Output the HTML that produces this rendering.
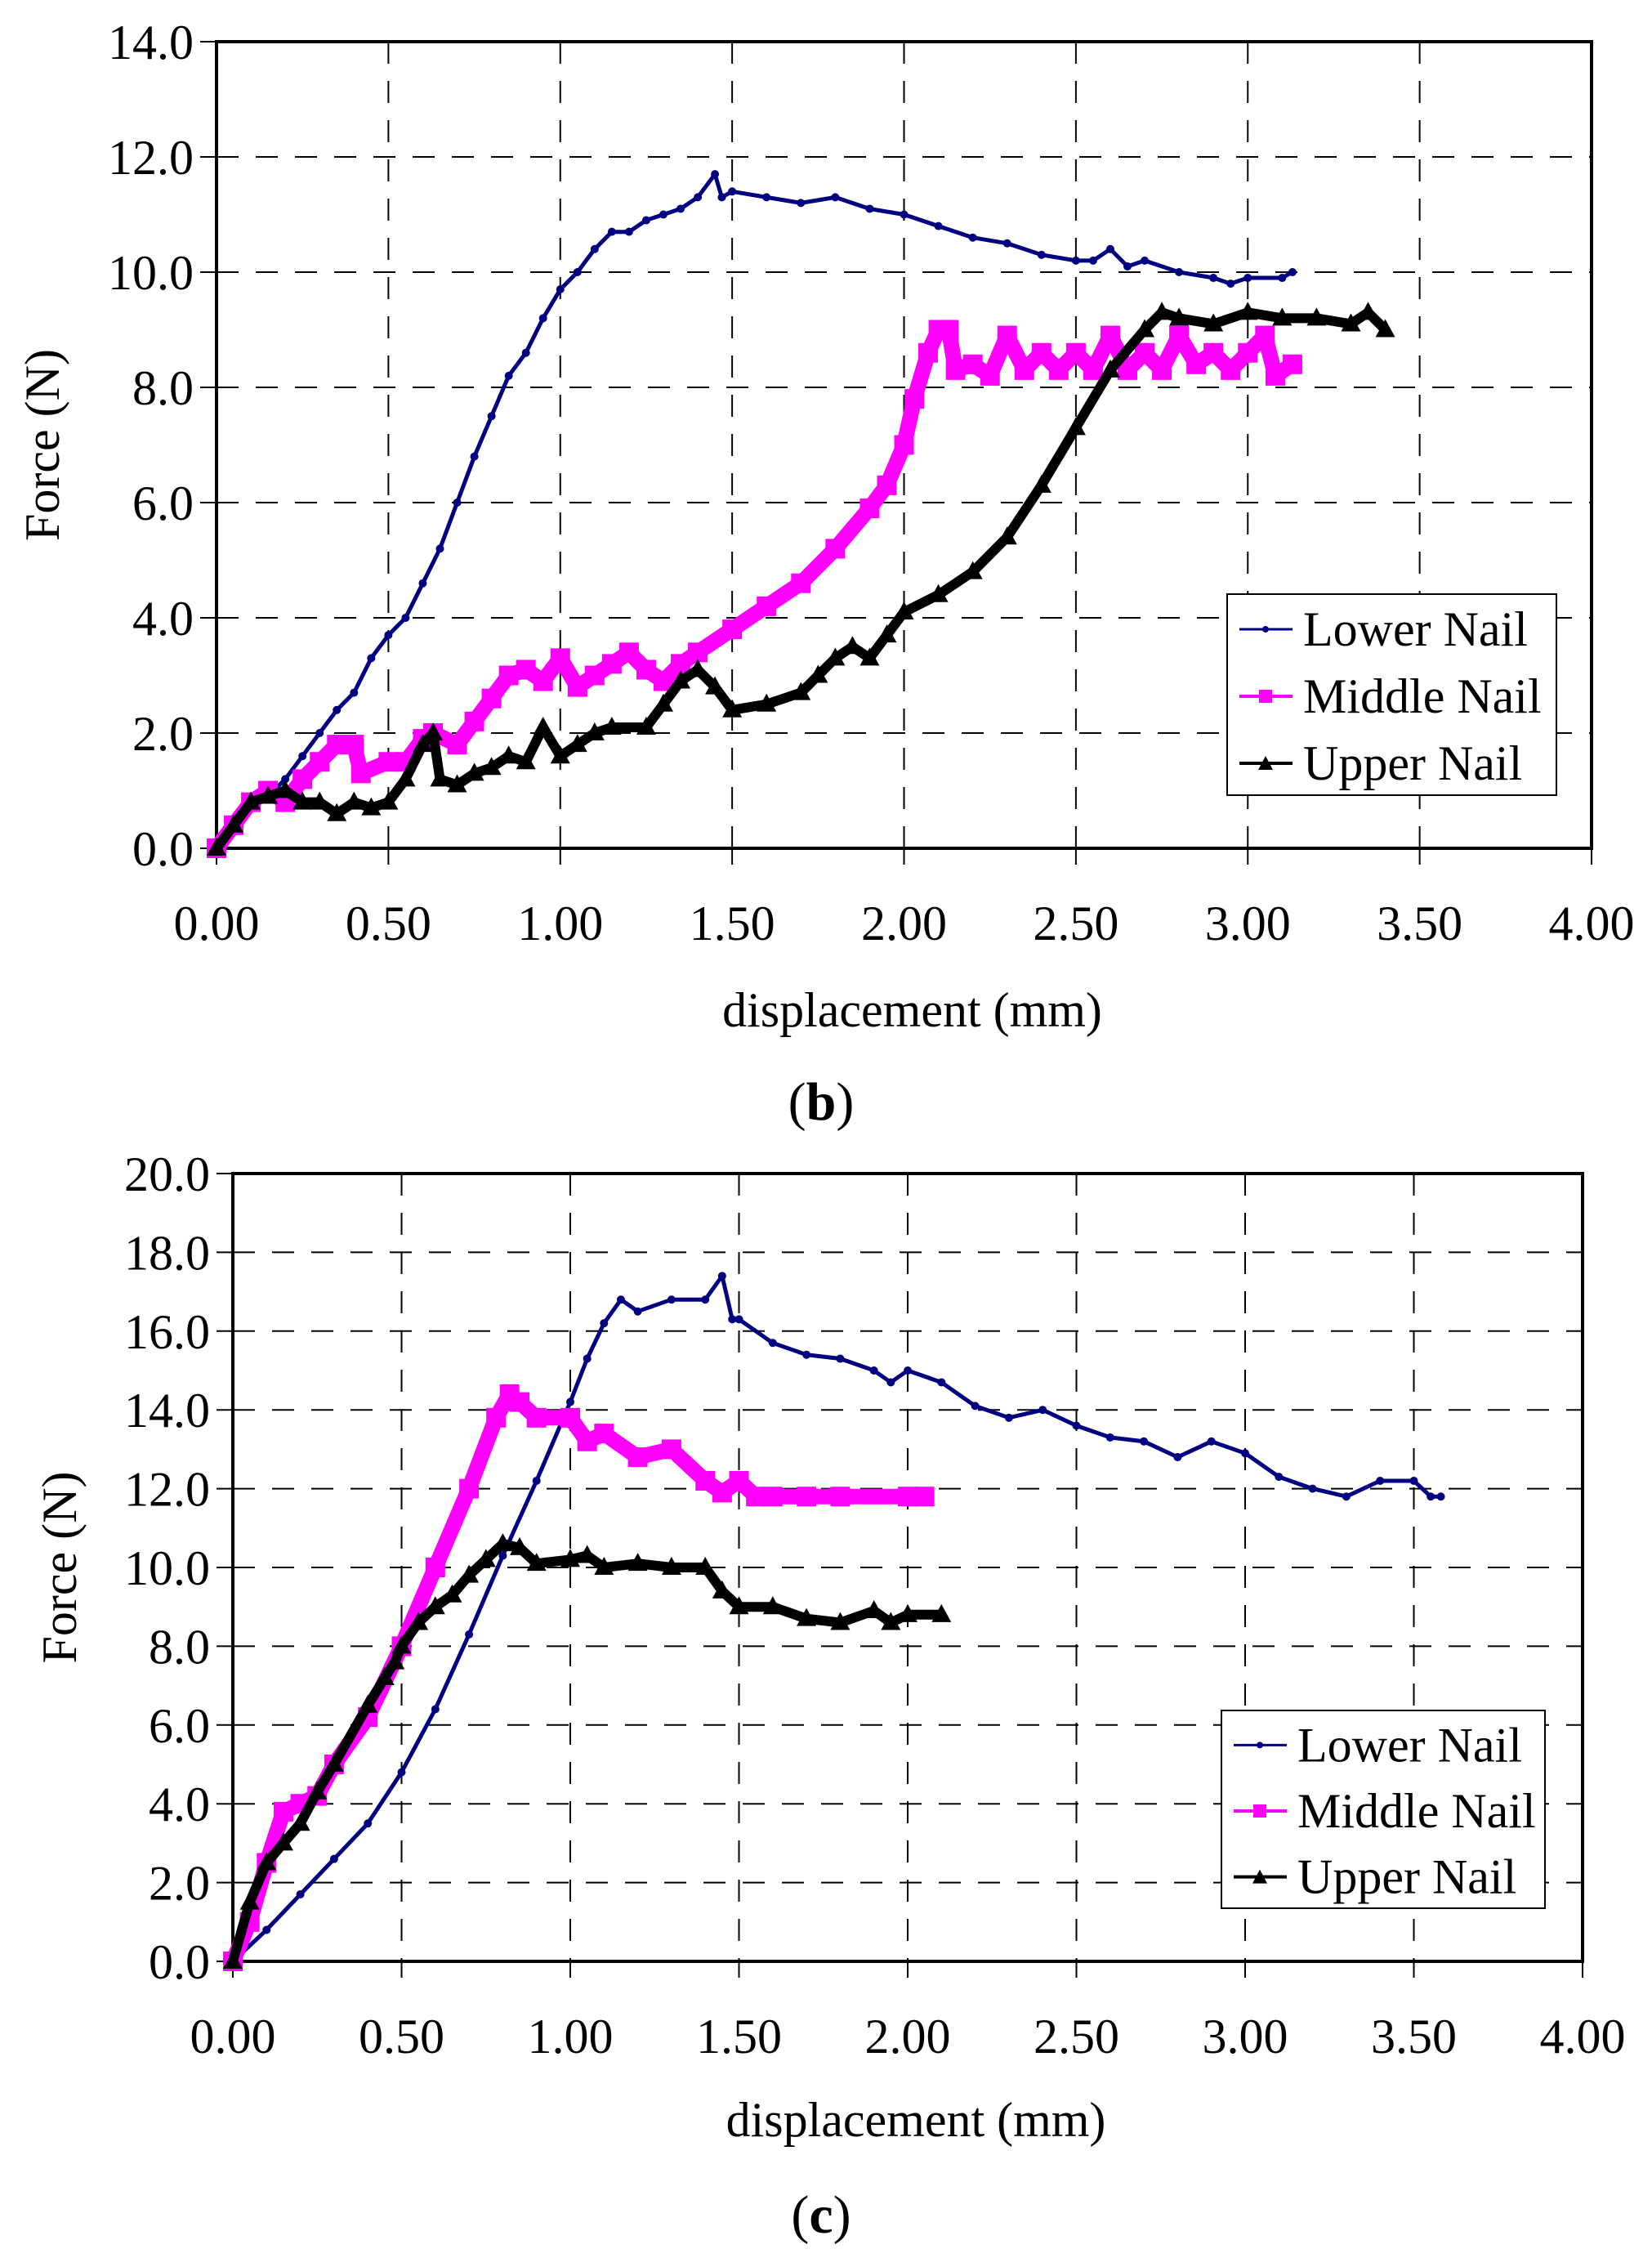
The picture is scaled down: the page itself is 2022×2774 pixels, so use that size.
<!DOCTYPE html>
<html><head><meta charset="utf-8"><style>
html,body{margin:0;padding:0;background:#fff}
svg{display:block}
text{font-family:"Liberation Serif",serif;fill:#000}
</style></head><body>
<svg id="fig" width="2022" height="2774" viewBox="0 0 2022 2774" xmlns="http://www.w3.org/2000/svg"></svg>
<script>
const xTicks=[0,0.5,1,1.5,2,2.5,3,3.5,4];
const xTickLabels=["0.00","0.50","1.00","1.50","2.00","2.50","3.00","3.50","4.00"];
const bYTicks=[0,2,4,6,8,10,12,14];
const cYTicks=[0,2,4,6,8,10,12,14,16,18,20];
const seriesNames=["Lower Nail","Middle Nail","Upper Nail"];
const bLowerX=[0,0.05,0.1,0.15,0.2,0.25,0.3,0.35,0.4,0.45,0.5,0.55,0.6,0.65,0.7,0.75,0.8,0.85,0.9,0.95,1.0,1.05,1.1,1.15,1.2,1.25,1.3,1.35,1.4,1.45,1.47,1.5,1.6,1.7,1.8,1.9,2.0,2.1,2.2,2.3,2.4,2.5,2.55,2.6,2.65,2.7,2.8,2.9,2.95,3.0,3.1,3.13];
const bLowerY=[0,0.4,0.7,0.9,1.2,1.6,2.0,2.4,2.7,3.3,3.7,4.0,4.6,5.2,6.0,6.8,7.5,8.2,8.6,9.2,9.7,10.0,10.4,10.7,10.7,10.9,11.0,11.1,11.3,11.7,11.3,11.4,11.3,11.2,11.3,11.1,11.0,10.8,10.6,10.5,10.3,10.2,10.2,10.4,10.1,10.2,10.0,9.9,9.8,9.9,9.9,10.0];
const bMiddleX=[0,0.05,0.1,0.15,0.2,0.25,0.3,0.35,0.4,0.42,0.5,0.55,0.6,0.63,0.7,0.75,0.8,0.85,0.9,0.95,1.0,1.05,1.1,1.15,1.2,1.25,1.3,1.35,1.4,1.5,1.6,1.7,1.8,1.9,1.95,2.0,2.03,2.07,2.1,2.13,2.15,2.2,2.25,2.3,2.35,2.4,2.45,2.5,2.55,2.6,2.65,2.7,2.75,2.8,2.85,2.9,2.95,3.0,3.05,3.08,3.13];
const bMiddleY=[0,0.4,0.8,1.0,0.8,1.2,1.5,1.8,1.8,1.3,1.5,1.5,1.9,2.0,1.8,2.2,2.6,3.0,3.1,2.9,3.3,2.8,3.0,3.2,3.4,3.1,2.9,3.2,3.4,3.8,4.2,4.6,5.2,5.9,6.3,7.0,7.8,8.6,9.0,9.0,8.3,8.4,8.2,8.9,8.3,8.6,8.3,8.6,8.3,8.9,8.3,8.6,8.3,8.9,8.4,8.6,8.3,8.6,8.9,8.2,8.4];
const bUpperX=[0,0.05,0.1,0.15,0.2,0.25,0.3,0.35,0.4,0.45,0.5,0.55,0.6,0.63,0.65,0.7,0.75,0.8,0.85,0.9,0.95,1.0,1.05,1.1,1.15,1.25,1.3,1.35,1.4,1.45,1.5,1.6,1.7,1.75,1.8,1.85,1.9,1.95,2.0,2.1,2.2,2.3,2.4,2.5,2.6,2.7,2.75,2.8,2.9,3.0,3.1,3.2,3.3,3.35,3.4];
const bUpperY=[0,0.4,0.8,0.9,1.0,0.8,0.8,0.6,0.8,0.7,0.8,1.2,1.8,2.0,1.2,1.1,1.3,1.4,1.6,1.5,2.1,1.6,1.8,2.0,2.1,2.1,2.5,2.9,3.1,2.8,2.4,2.5,2.7,3.0,3.3,3.5,3.3,3.7,4.1,4.4,4.8,5.4,6.3,7.3,8.3,9.0,9.3,9.2,9.1,9.3,9.2,9.2,9.1,9.3,9.0];
const cLowerX=[0,0.1,0.2,0.3,0.4,0.5,0.6,0.7,0.8,0.9,1.0,1.05,1.1,1.15,1.2,1.3,1.4,1.45,1.48,1.5,1.6,1.7,1.8,1.9,1.95,2.0,2.1,2.2,2.3,2.4,2.5,2.6,2.7,2.8,2.9,3.0,3.1,3.2,3.3,3.4,3.5,3.55,3.58];
const cLowerY=[0,0.8,1.7,2.6,3.5,4.8,6.4,8.3,10.3,12.2,14.2,15.3,16.2,16.8,16.5,16.8,16.8,17.4,16.3,16.3,15.7,15.4,15.3,15.0,14.7,15.0,14.7,14.1,13.8,14.0,13.6,13.3,13.2,12.8,13.2,12.9,12.3,12.0,11.8,12.2,12.2,11.8,11.8];
const cMiddleX=[0,0.05,0.1,0.15,0.2,0.25,0.3,0.4,0.5,0.6,0.7,0.78,0.82,0.85,0.9,1.0,1.05,1.1,1.2,1.3,1.4,1.45,1.5,1.55,1.6,1.7,1.8,2.0,2.05];
const cMiddleY=[0,1.0,2.5,3.8,4.0,4.2,5.0,6.2,8.0,10.0,12.0,13.8,14.4,14.2,13.8,13.8,13.2,13.4,12.8,13.0,12.2,11.9,12.2,11.8,11.8,11.8,11.8,11.8,11.8];
const cUpperX=[0,0.05,0.1,0.15,0.2,0.25,0.3,0.4,0.45,0.48,0.5,0.55,0.6,0.65,0.7,0.75,0.8,0.85,0.9,1.0,1.05,1.1,1.2,1.3,1.4,1.45,1.5,1.6,1.7,1.8,1.9,1.95,2.0,2.1];
const cUpperY=[0,1.5,2.5,3.0,3.5,4.3,5.0,6.5,7.2,7.6,8.0,8.6,9.0,9.3,9.8,10.2,10.6,10.5,10.1,10.2,10.3,10.0,10.1,10.0,10.0,9.4,9.0,9.0,8.7,8.6,8.9,8.6,8.8,8.8];

const NS="http://www.w3.org/2000/svg";
const svg=document.getElementById('fig');
function mk(tag,attrs,parent){const e=document.createElementNS(NS,tag);for(const k in attrs)e.setAttribute(k,attrs[k]);(parent||svg).appendChild(e);return e;}

function chart(cfg){
  const g=mk('g',{});
  
  
  const L=cfg.L,R=cfg.R,T=cfg.T,B=cfg.B,ymax=cfg.ymax;
  const sx=v=>L+(v/4)*(R-L);
  const sy=v=>B-(v/ymax)*(B-T);
  cfg.yTicks.forEach(v=>{
    if(v>0&&v<ymax){const l=mk('line',{x1:L,x2:R,y1:sy(v),y2:sy(v),stroke:'#000','stroke-width':2,'stroke-dasharray':'27 21'},g);
    
    }
    const t=mk('line',{x1:L-20,x2:L,y1:sy(v),y2:sy(v),stroke:'#000','stroke-width':2},g);
    
    
    const tx=mk('text',{x:L-28,y:sy(v)+21,'text-anchor':'end','font-size':60},g);
    tx.textContent=v.toFixed(1);
    
    
  });
  xTicks.forEach((v,i)=>{
    if(v>0&&v<4){const l=mk('line',{x1:sx(v),x2:sx(v),y1:T,y2:B,stroke:'#000','stroke-width':2,'stroke-dasharray':'27 21'},g);
    
    }
    const t=mk('line',{x1:sx(v),x2:sx(v),y1:B,y2:B+20,stroke:'#000','stroke-width':2},g);
    
    
    const tx=mk('text',{x:sx(v),y:cfg.xLabY,'text-anchor':'middle','font-size':60},g);
    tx.textContent=xTickLabels[i];
    
    
  });
  const box=mk('rect',{x:L,y:T,width:R-L,height:B-T,fill:'none',stroke:'#000','stroke-width':4},g);
  
  
  const styles=[{c:'#000080',w:5,m:'dot'},{c:'#ff00ff',w:19,m:'sq'},{c:'#000',w:12,m:'tri'}];
  cfg.series.forEach((s,k)=>{
    const st=styles[k];
    const sg=mk('g',{},g);
    
    
    const pts=s[0].map((x,i)=>sx(x).toFixed(1)+','+sy(s[1][i]).toFixed(1)).join(' ');
    const pl=mk('polyline',{points:pts,fill:'none',stroke:st.c,'stroke-width':st.w,'stroke-linejoin':'round'},sg);
    
    
    s[0].forEach((x,i)=>{
      const px=sx(x),py=sy(s[1][i]);let m;
      if(st.m==='dot')m=mk('circle',{cx:px,cy:py,r:5,fill:st.c},sg);
      else if(st.m==='sq')m=mk('rect',{x:px-12,y:py-12,width:24,height:24,fill:st.c},sg);
      else m=mk('polygon',{points:`${px},${py-13} ${px-12},${py+9} ${px+12},${py+9}`,fill:st.c},sg);
      
      
    });
  });
  const lg=mk('g',{},g);
  
  
  const lb=cfg.leg;
  mk('rect',{x:lb.x,y:lb.y,width:lb.w,height:lb.h,fill:'#fff',stroke:'#000','stroke-width':2},lg);
  const rowH=lb.h/3;
  seriesNames.forEach((n,k)=>{
    const st=styles[k];
    const cy=lb.y+rowH*(k+0.5)+2;
    const e=mk('g',{},lg);
    
    
    mk('line',{x1:lb.x+15,x2:lb.x+80,y1:cy,y2:cy,stroke:st.c,'stroke-width':k==0?3:4},e);
    const mx=lb.x+47;
    if(st.m==='dot')mk('circle',{cx:mx,cy:cy,r:4,fill:st.c},e);
    else if(st.m==='sq')mk('rect',{x:mx-8,y:cy-8,width:16,height:16,fill:st.c},e);
    else mk('polygon',{points:`${mx},${cy-9} ${mx-9},${cy+8} ${mx+9},${cy+8}`,fill:st.c},e);
    const t=mk('text',{x:lb.x+93,y:cy+20,'font-size':60},e);
    t.textContent=n;
  });
  const xt=mk('text',{x:(L+R)/2+10,y:cfg.xTitleY,'text-anchor':'middle','font-size':60},g);
  xt.textContent='displacement (mm)';
  
  
  const yt=mk('text',{x:0,y:0,'text-anchor':'middle','font-size':60,transform:`translate(${cfg.yTitleX},${(T+B)/2}) rotate(-90)`},g);
  yt.textContent='Force (N)';
  
  
  const pt=mk('text',{x:1005,y:cfg.panelY,'text-anchor':'middle','font-size':66},g);
  pt.innerHTML='(<tspan font-weight="bold">'+cfg.panel+'</tspan>)';
  
  
}
chart({id:'chart-b',L:265,R:1948,T:51,B:1038,ymax:14,yTicks:bYTicks,xLabY:1150,xTitleY:1256,yTitleX:72,panelY:1370,panel:'b',
  series:[[bLowerX,bLowerY],[bMiddleX,bMiddleY],[bUpperX,bUpperY]],leg:{x:1502,y:727,w:403,h:246}});
chart({id:'chart-c',L:285,R:1937,T:1436,B:2400,ymax:20,yTicks:cYTicks,xLabY:2512,xTitleY:2614,yTitleX:93,panelY:2732,panel:'c',
  series:[[cLowerX,cLowerY],[cMiddleX,cMiddleY],[cUpperX,cUpperY]],leg:{x:1495,y:2093,w:396,h:242}});
</script>
</body></html>
